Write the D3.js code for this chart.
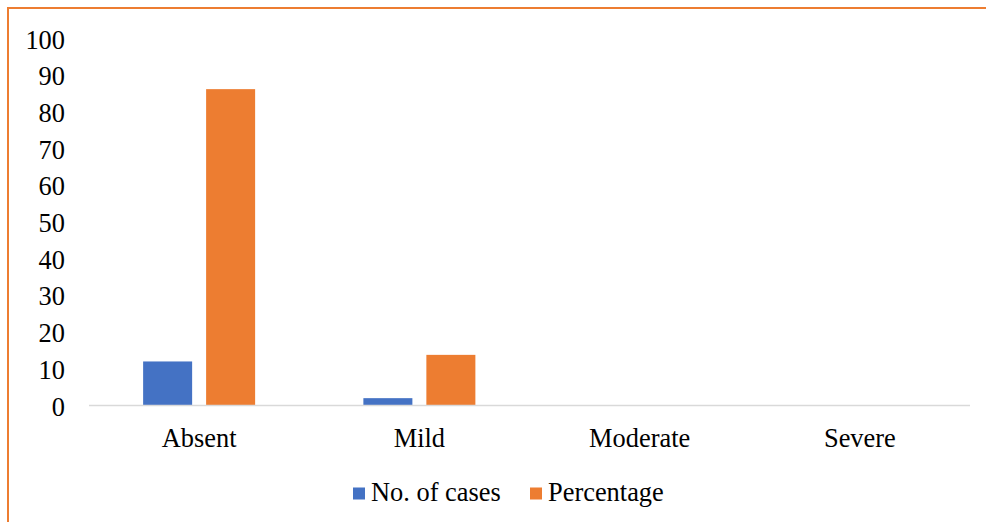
<!DOCTYPE html>
<html>
<head>
<meta charset="utf-8">
<script src="https://cdn.jsdelivr.net/npm/d3@7"></script>
<style>
  html, body { margin: 0; padding: 0; background: #fff; overflow: hidden; }
  svg { display: block; }
  svg text { font-family: "Liberation Serif", "Times New Roman", serif !important; }
</style>
</head>
<body>
<svg id="chart" width="986" height="522"></svg>
<script>
const categories = ["Absent", "Mild", "Moderate", "Severe"];
const seriesNames = ["No. of cases", "Percentage"];
const noOfCases = [12, 2, 0, 0];
const percentage = [86.2, 13.8, 0, 0];
const yTicks = [0, 10, 20, 30, 40, 50, 60, 70, 80, 90, 100];
const colors = ["#4472C4", "#ED7D31"];

const svg = d3.select("#chart");
const plotLeft = 89, plotRight = 970, plotTop = 38.5, plotBottom = 405.5;
const fontSize = 26.4;

// frame
svg.append("rect").attr("x", 8).attr("y", 8).attr("width", 1000).attr("height", 600)
  .attr("fill", "#fff").attr("stroke", "#ED7D31").attr("stroke-width", 2);

const y = d3.scaleLinear().domain([0, 100]).range([plotBottom, plotTop]);
const x0 = d3.scaleBand().domain(categories).range([plotLeft, plotRight])
  .paddingInner(0.4915).paddingOuter(0.24575);
const x1 = d3.scaleBand().domain(seriesNames).range([0, x0.bandwidth()])
  .paddingInner(0.222).paddingOuter(0);

// y axis labels
const yAxis = d3.axisLeft(y).tickValues(yTicks).tickSize(0).tickPadding(0);
const gy = svg.append("g").attr("transform", "translate(65,0)").call(yAxis);
gy.select(".domain").remove();
gy.selectAll("text").attr("font-size", fontSize).attr("fill", "#000").attr("dy", "0.36em");

const data = categories.map((c, i) => ({ cat: c, vals: [noOfCases[i], percentage[i]] }));

const groups = svg.append("g").selectAll("g").data(data).join("g")
  .attr("transform", d => `translate(${x0(d.cat)},0)`);
groups.selectAll("rect").data(d => d.vals.map((v, j) => ({ s: seriesNames[j], v, j })))
  .join("rect")
  .attr("x", d => x1(d.s))
  .attr("width", x1.bandwidth())
  .attr("y", d => y(d.v))
  .attr("height", d => y(0) - y(d.v))
  .attr("fill", d => colors[d.j]);

// baseline
svg.append("line").attr("x1", plotLeft).attr("x2", plotRight).attr("y1", plotBottom).attr("y2", plotBottom)
  .attr("stroke", "#D9D9D9").attr("stroke-width", 1.5);

// x axis labels
const xAxis = d3.axisBottom(x0).tickSize(0).tickPadding(0);
const gx = svg.append("g").attr("transform", `translate(0,${plotBottom})`).call(xAxis);
gx.select(".domain").remove();
gx.selectAll("text").attr("font-size", fontSize).attr("fill", "#000").attr("dy", 0).attr("y", 41);

// legend
const legendItems = [
  { name: seriesNames[0], color: colors[0], x: 353 },
  { name: seriesNames[1], color: colors[1], x: 530 }
];
const lg = svg.append("g").selectAll("g").data(legendItems).join("g")
  .attr("transform", d => `translate(${d.x},0)`);
lg.append("rect").attr("x", 0).attr("y", 487.5).attr("width", 12).attr("height", 12)
  .attr("fill", d => d.color);
lg.append("text").attr("x", 18).attr("y", 501).attr("font-size", fontSize)
  .attr("fill", "#000").text(d => d.name);
</script>
</body>
</html>
